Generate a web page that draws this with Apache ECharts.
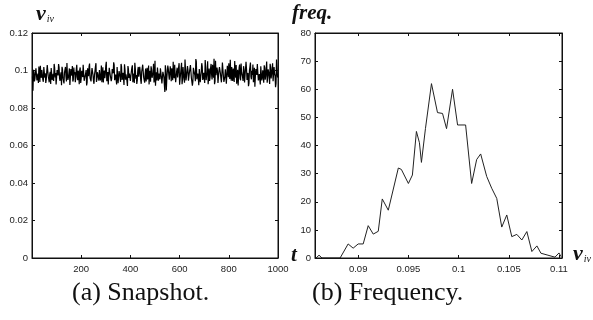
<!DOCTYPE html>
<html><head><meta charset="utf-8">
<script src="https://cdn.jsdelivr.net/npm/echarts@6/dist/echarts.min.js"></script>
<style>html,body{margin:0;padding:0;background:#fff}#c{width:593px;height:320px}</style>
</head><body><div id="c"></div>
<script>
// (a) Snapshot: v_iv at even time steps, two interleaved read-off arrays
const snapTA = [];   // t = 2, 6, 10, ..., 998
for (let t = 2; t <= 998; t += 4) snapTA.push(t);
const snapTB = [];   // t = 4, 8, 12, ..., 1000
for (let t = 4; t <= 1000; t += 4) snapTB.push(t);
const snapVA = [
0.0968,0.1004,0.0942,0.0989,0.1017,0.0955,0.0933,0.0996,0.1025,0.0961,
0.0978,0.0940,0.1010,0.0985,0.0952,0.1029,0.0970,0.0937,0.0993,0.1013,
0.0949,0.0982,0.1035,0.0963,0.0926,0.1002,0.0974,0.1018,0.0945,0.0990,
0.1020,0.0958,0.0931,0.0997,0.0969,0.1040,0.0950,0.0986,0.0923,0.1008,
0.0973,0.0941,0.1016,0.0992,0.0960,0.1030,0.0948,0.0979,0.1005,0.0934,
0.0998,0.0965,0.1025,0.0951,0.0984,0.0920,0.1012,0.0970,0.1037,0.0957,
0.0986,0.1010,0.0944,0.0977,0.1022,0.0939,0.0991,0.0962,0.1003,0.0947,
0.1027,0.0969,0.0936,0.1000,0.0981,0.1046,0.0954,0.0925,0.1014,0.0976,
0.0943,0.1008,0.0985,0.1030,0.0958,0.0972,0.1019,0.0932,0.0997,0.0964,
0.1035,0.0950,0.0988,0.0923,0.1006,0.0979,0.0944,0.1024,0.0960,0.0993,
0.0971,0.1015,0.0938,0.0983,0.1041,0.0956,0.0928,0.1001,0.0967,0.1020,
0.0948,0.0994,0.1031,0.0962,0.0935,0.1010,0.0977,0.0952,0.1026,0.0985,
0.0940,0.1005,0.0970,0.1036,0.0958,0.0919,0.0990,0.1016,0.0946,0.0980,
0.1012,0.0961,0.0930,0.0999,0.0975,0.1028,0.0894,0.0965,0.1009,0.0951,
0.1022,0.0943,0.0986,0.1047,0.0959,0.0976,0.0931,0.1015,0.0970,0.1039,
0.0955,0.0992,0.0927,0.1018,0.0981,0.1058,0.0947,0.0969,0.1002,0.0936,
0.0990,0.1033,0.0963,0.0940,0.1011,0.0975,0.1061,0.0953,0.0984,0.0922,
0.1007,0.0966,0.1039,0.0950,0.0988,0.0933,0.1020,0.0974,0.1049,0.0959,
0.0945,0.1013,0.0979,0.1030,0.0962,0.0927,0.1052,0.0968,0.0996,0.0941,
0.1018,0.0984,0.0937,0.1043,0.0971,0.0952,0.1006,0.0930,0.1025,0.0964,
0.0988,0.1057,0.0946,0.0978,0.1010,0.0939,0.0993,0.1029,0.0957,0.0920,
0.1015,0.0960,0.1037,0.0982,0.0944,0.1003,0.0972,0.1046,0.0950,0.0987,
0.0933,0.1020,0.0966,0.0999,0.1032,0.0954,0.0913,0.1008,0.0976,0.1041,
0.0958,0.0985,0.1023,0.0947,0.1001,0.0935,0.1014,0.0970,0.1048,0.0962,
0.0992,0.0928,0.1017,0.0979,0.1038,0.0951,0.0983,0.0911,0.1059,0.0968
];
const snapVB = [
0.0892,0.0991,0.0958,0.1012,0.0947,0.0983,0.1021,0.0939,0.0976,0.1003,
0.0951,0.1018,0.0962,0.0934,0.0995,0.1027,0.0955,0.0981,0.0928,0.1009,
0.0969,0.0944,0.1015,0.0987,0.0936,0.0998,0.1034,0.0958,0.0973,0.0921,
0.1006,0.0949,0.0989,0.1019,0.0941,0.0977,0.0963,0.1011,0.0932,0.0994,
0.1024,0.0952,0.0979,0.0938,0.1008,0.0966,0.0999,0.0927,0.1016,0.0957,
0.0984,0.1031,0.0945,0.0971,0.1002,0.0935,0.0988,0.1022,0.0961,0.0942,
0.1013,0.0975,0.0929,0.0997,0.1039,0.0953,0.0982,0.0946,0.1005,0.0968,
0.0937,0.1017,0.0985,0.0959,0.1026,0.0943,0.0992,0.0931,0.1009,0.0974,
0.0956,0.1001,0.1044,0.0948,0.0978,0.0925,0.1014,0.0967,0.0996,0.0939,
0.1021,0.0962,0.0987,0.1033,0.0951,0.0972,0.0918,0.1007,0.0983,0.0944,
0.0995,0.1028,0.0958,0.0934,0.1011,0.0976,0.0949,0.1019,0.0965,0.0991,
0.0929,0.1004,0.1037,0.0955,0.0981,0.0942,0.1015,0.0969,0.0926,0.0998,
0.1022,0.0961,0.0988,0.0936,0.1052,0.0973,0.0947,0.1009,0.0984,0.0953,
0.1018,0.0931,0.0993,0.0966,0.0885,0.1003,0.0957,0.1026,0.0979,0.0941,
0.0987,0.1012,0.0948,0.0971,0.1031,0.0938,0.0996,0.0963,0.1017,0.0924,
0.0982,0.1041,0.0954,0.0977,0.0935,0.1006,0.0968,0.1024,0.0946,0.0991,
0.1029,0.0959,0.0919,0.1014,0.0986,0.0943,0.1048,0.0972,0.0957,0.1008,
0.0937,0.0994,0.1021,0.0961,0.0978,0.1056,0.0949,0.0985,0.0927,0.1011,
0.0966,0.1035,0.0952,0.0989,0.1063,0.0942,0.0975,0.1016,0.0933,0.0998,
0.1027,0.0958,0.0984,0.1045,0.0939,0.0969,0.1012,0.0921,0.0993,0.1038,
0.0955,0.0979,0.1019,0.0944,0.0987,0.1051,0.0962,0.0929,0.1004,0.0973,
0.1032,0.0948,0.0991,0.0965,0.1023,0.0936,0.0982,0.1009,0.0957,0.0916,
0.1001,0.1042,0.0953,0.0976,0.0938,0.1015,0.0968,0.0995,0.1034,0.0947,
0.0981,0.0926,0.1013,0.0963,0.0992,0.1028,0.0951,0.0974,0.0935,0.1006,
0.0967,0.1036,0.0958,0.0989,0.0943,0.1019,0.0972,0.0931,0.1055,0.0962
];
const snapYTicks = [0, 0.02, 0.04, 0.06, 0.08, 0.1, 0.12];
const snapXTicks = [200, 400, 600, 800, 1000];

// (b) Frequency of v_iv
const freqX = [0.0858,0.0861,0.0864,0.0870,0.0876,0.0882,0.0890,0.0895,0.0900,0.0905,0.0910,0.0915,0.0920,0.0924,0.0930,0.0940,0.0943,0.0950,0.0954,0.0958,0.0961,0.0963,0.0967,0.0973,0.0979,0.0984,0.0988,0.0994,0.0999,0.1007,0.1013,0.1018,0.1022,0.1028,0.1033,0.1038,0.1043,0.1048,0.1053,0.1058,0.1063,0.1068,0.1073,0.1078,0.1082,0.1089,0.1096,0.1100,0.1102];
const freqY = [0,1,0,0,0,0,5,3.5,5,5,11.5,8.5,9.5,21,17,32,31.5,26.5,29.5,45,41,34,46,62,51.7,51.4,46,60,47.3,47.3,26.5,35,37,29,24.8,21.2,11,15.3,7.6,8.4,6.4,9.4,2.3,4.3,1.7,1,0.3,1.8,0.5];
const freqYTicks = [0,10,20,30,40,50,60,70,80];
const freqXTicks = [0.09, 0.095, 0.1, 0.105, 0.11];

// merge the interleaved snapshot arrays in time order
const snapData = [];
for (let i = 0; i < snapTA.length; i++) {
  snapData.push([snapTA[i], snapVA[i]]);
  snapData.push([snapTB[i], snapVB[i]]);
}

const chart = echarts.init(document.getElementById('c'), null, {renderer: 'canvas'});
const lblStyle = {color: '#222', fontSize: 9.5, fontFamily: 'Liberation Sans, Arial, sans-serif'};
function ax(extra) {
  return Object.assign({
    axisLine: {show: true, onZero: false, lineStyle: {color: '#111', width: 1}},
    axisTick: {show: true, inside: true, length: 3, lineStyle: {color: '#111'}},
    splitLine: {show: false}
  }, extra);
}
const serif = 'Liberation Serif, serif';
const vLabel = {
  text: '{v|v}{s|iv}', rich: {
    v: {fontFamily: serif, fontStyle: 'italic', fontWeight: 'bold', fontSize: 22, fill: '#111'},
    s: {fontFamily: serif, fontStyle: 'italic', fontSize: 10, fill: '#111', padding: [10, 0, 0, 1]}
  }};
chart.setOption({
  animation: false,
  grid: [
    {left: 32, right: 315, top: 33, bottom: 62, show: true, borderColor: '#111', borderWidth: 1, backgroundColor: '#fff'},
    {left: 315, right: 31, top: 33, bottom: 62, show: true, borderColor: '#111', borderWidth: 1, backgroundColor: '#fff'}
  ],
  xAxis: [
    ax({type: 'value', gridIndex: 0, min: 0, max: 1000,
      axisTick: {show: true, inside: true, length: 3, customValues: snapXTicks, lineStyle: {color: '#111'}},
      axisLabel: Object.assign({margin: 6, customValues: snapXTicks, formatter: v => String(v)}, lblStyle)}),
    ax({type: 'value', gridIndex: 0, position: 'top', min: 0, max: 1000,
      axisTick: {show: true, inside: true, length: 3, customValues: snapXTicks, lineStyle: {color: '#111'}},
      axisLabel: {show: false}}),
    ax({type: 'value', gridIndex: 1, min: 0.0857, max: 0.1103,
      axisTick: {show: true, inside: true, length: 3, customValues: freqXTicks, lineStyle: {color: '#111'}},
      axisLabel: Object.assign({margin: 6, customValues: freqXTicks, formatter: v => String(+v.toFixed(4))}, lblStyle)}),
    ax({type: 'value', gridIndex: 1, position: 'top', min: 0.0857, max: 0.1103,
      axisTick: {show: true, inside: true, length: 3, customValues: freqXTicks, lineStyle: {color: '#111'}},
      axisLabel: {show: false}})
  ],
  yAxis: [
    ax({type: 'value', gridIndex: 0, min: 0, max: 0.12,
      axisTick: {show: true, inside: true, length: 3, customValues: snapYTicks, lineStyle: {color: '#111'}},
      axisLabel: Object.assign({margin: 4, customValues: snapYTicks, formatter: v => String(+v.toFixed(2))}, lblStyle)}),
    ax({type: 'value', gridIndex: 0, position: 'right', min: 0, max: 0.12,
      axisTick: {show: true, inside: true, length: 3, customValues: snapYTicks, lineStyle: {color: '#111'}},
      axisLabel: {show: false}}),
    ax({type: 'value', gridIndex: 1, min: 0, max: 80,
      axisTick: {show: true, inside: true, length: 3, customValues: freqYTicks, lineStyle: {color: '#111'}},
      axisLabel: Object.assign({margin: 4, customValues: freqYTicks}, lblStyle)}),
    ax({type: 'value', gridIndex: 1, position: 'right', min: 0, max: 80,
      axisTick: {show: true, inside: true, length: 3, customValues: freqYTicks, lineStyle: {color: '#111'}},
      axisLabel: {show: false}})
  ],
  series: [
    {type: 'line', xAxisIndex: 0, yAxisIndex: 0, showSymbol: false, symbol: 'none',
      data: snapData, lineStyle: {color: '#000', width: 1.2}},
    {type: 'line', xAxisIndex: 2, yAxisIndex: 2, showSymbol: false, symbol: 'none',
      data: freqX.map((x, i) => [x, freqY[i]]), lineStyle: {color: '#222', width: 1}}
  ],
  graphic: [
    {type: 'text', left: 36, top: 3, style: vLabel},
    {type: 'text', left: 292, top: 3, style: {
      text: 'freq.', fontFamily: serif, fontStyle: 'italic', fontWeight: 'bold', fontSize: 21, fill: '#111'}},
    {type: 'text', left: 291, top: 245, style: {
      text: 't', fontFamily: serif, fontStyle: 'italic', fontWeight: 'bold', fontSize: 21, fill: '#111'}},
    {type: 'text', left: 573, top: 243, style: vLabel},
    {type: 'text', left: 72, top: 280, style: {
      text: '(a) Snapshot.', fontFamily: serif, fontSize: 26, fill: '#111'}},
    {type: 'text', left: 312, top: 280, style: {
      text: '(b) Frequency.', fontFamily: serif, fontSize: 26, fill: '#111'}}
  ]
});
</script></body></html>
